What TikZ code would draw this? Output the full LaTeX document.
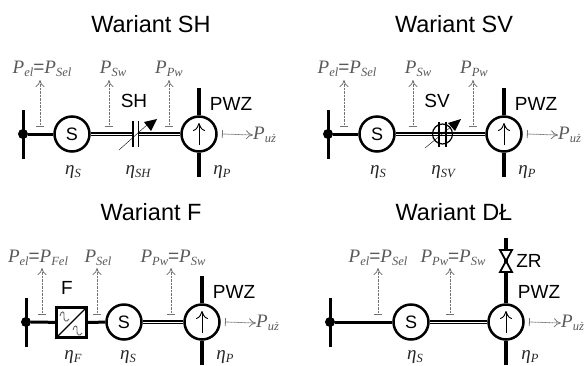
\documentclass[tikz,border=0pt]{standalone}
\usepackage{fontspec}
\setmainfont{Liberation Sans}
\newfontfamily\serifsym{Liberation Serif}
\usetikzlibrary{arrows.meta}
\newcommand{\sym}[2]{{\serifsym\itshape #1\raisebox{-0.35ex}{\fontsize{12.5}{12}\selectfont #2}}}
\tikzset{
 title/.style={font=\fontsize{23.5}{24}\selectfont},
 tag/.style={font=\fontsize{19}{20}\selectfont,inner sep=0pt},
 power/.style={font=\fontsize{19}{20}\selectfont,text=black!65,inner sep=0pt},
 effic/.style={font=\fontsize{19}{20}\selectfont,text=black!85,inner sep=0pt},
 machine/.style={draw,circle,line width=2.5pt,minimum size=35pt,inner sep=0pt,fill=white,font=\fontsize{18}{20}\selectfont},
 filter/.style={draw,rectangle,line width=2.5pt,minimum size=30pt,inner sep=0pt,fill=white},
 dot/.style={circle,fill=black,minimum size=10pt,inner sep=0pt},
 bus/.style={line width=3pt},
 stack/.style={line width=3.8pt},
 shaft/.style={double,line width=1.4pt,double distance=0.9pt},
 flow/.style={black!55,dash pattern=on 0.9pt off 0.5pt,line width=0.8pt,{Bar[width=8pt,sep=0pt]}-{To[length=7pt,width=9pt]}},
 pump/.style={line width=0.9pt,-{To[length=8pt,width=12pt]}},
 plate/.style={line width=1.5pt},
}
\begin{document}
\begin{tikzpicture}[x=1pt,y=-1pt]
 \useasboundingbox (0,0) rectangle (584,365);

 \node[title] (t1) at (151,24) {Wariant SH};
 \node[dot] (d1) at (23,134) {};
 \node[machine] (s1) at (72,134) {S};
 \node[machine] (p1) at (199,134) {};
 \coordinate (c1a) at (133,134);
 \coordinate (c1b) at (138.5,134);
 \draw[bus] (d1) ++(0,-24) -- ++(0,49);
 \draw[bus] (d1) -- (s1);
 \draw[shaft] (s1) -- (c1a);
 \draw[shaft] (c1b) -- (p1);
 \draw[plate] (c1a) ++(0,-13) -- ++(0,26);
 \draw[plate] (c1b) ++(0,-13) -- ++(0,26);
 \draw[thin] (119,150) -- (148,124);
 \fill (144,122)--(157,119)--(151,131)--cycle;
 \draw[stack] (p1.north) -- ++(0,-27);
 \draw[stack] (p1.south) -- ++(0,24);
 \draw[pump] (p1.center) ++(0,11) -- ++(0,-22);
 \node[tag] (n1) at (134,101) {SH};
 \node[tag] (w1) at (231,104) {PWZ};
 \node[power] (a1) at (42,69) {\sym{P}{el}=\sym{P}{Sel}};
 \node[power] (a2) at (113,69) {\sym{P}{Sw}};
 \node[power] (a3) at (169,69) {\sym{P}{Pw}};
 \node[power,anchor=west] (a4) at (253,135) {\sym{P}{uż}};
 \coordinate (b1) at (40,127);
 \coordinate (b2) at (109,127);
 \coordinate (b3) at (169,127);
 \coordinate (b4) at (222,134);
 \draw[flow] (b1) -- ++(0,-47);
 \draw[flow] (b2) -- ++(0,-47);
 \draw[flow] (b3) -- ++(0,-47);
 \draw[flow] (b4) -- (a4.west);
 \node[effic] (e1) at (73,172) {\sym{η}{S}};
 \node[effic] (e2) at (138,172) {\sym{η}{SH}};
 \node[effic] (e3) at (222,172) {\sym{η}{P}};

 \node[title] (t2) at (454,24) {Wariant SV};
 \node[dot] (d2) at (328,134) {};
 \node[machine] (s2) at (377,134) {S};
 \node[machine] (p2) at (504,134) {};
 \coordinate (c2a) at (441,134);
 \coordinate (c2b) at (444,134);
 \draw[bus] (d2) ++(0,-24) -- ++(0,49);
 \draw[bus] (d2) -- (s2);
 \draw[shaft] (s2) -- (p2);
 \draw[line width=1.2pt] (442.5,134) circle (10);
 \draw[plate] (c2a) ++(-2,-12) -- ++(0,25);
 \draw[plate] (c2b) ++(2,-12) -- ++(0,25);
 \draw[thin] (425,148) -- (452,126);
 \fill (448,123)--(461,119)--(455,131)--cycle;
 \draw[stack] (p2.north) -- ++(0,-27);
 \draw[stack] (p2.south) -- ++(0,24);
 \draw[pump] (p2.center) ++(0,11) -- ++(0,-22);
 \node[tag] (n2) at (437,101) {SV};
 \node[tag] (w2) at (536,104) {PWZ};
 \node[power] (a5) at (347,69) {\sym{P}{el}=\sym{P}{Sel}};
 \node[power] (a6) at (418,69) {\sym{P}{Sw}};
 \node[power] (a7) at (474,69) {\sym{P}{Pw}};
 \node[power,anchor=west] (a8) at (558,135) {\sym{P}{uż}};
 \coordinate (b5) at (344,127);
 \coordinate (b6) at (413,127);
 \coordinate (b7) at (473,127);
 \coordinate (b8) at (527,134);
 \draw[flow] (b5) -- ++(0,-47);
 \draw[flow] (b6) -- ++(0,-47);
 \draw[flow] (b7) -- ++(0,-47);
 \draw[flow] (b8) -- (a8.west);
 \node[effic] (e4) at (378,172) {\sym{η}{S}};
 \node[effic] (e5) at (443,172) {\sym{η}{SV}};
 \node[effic] (e6) at (527,172) {\sym{η}{P}};

 \node[title] (t3) at (151,212) {Wariant F};
 \node[dot] (d3) at (26,322) {};
 \node[filter] (f3) at (71.5,322.5) {};
 \node[machine] (s3) at (124,322) {S};
 \node[machine] (p3) at (202,322) {};
 \draw[bus] (d3) ++(0,-24) -- ++(0,49);
 \draw[bus] (d3) -- (f3);
 \draw[bus] (f3) -- (s3);
 \draw[shaft] (s3) -- (p3);
 \draw[line width=1.2pt] (f3.south west) -- (f3.north east);
 \draw[black!60,line width=0.9pt] (60,316) .. controls (61,310) and (65,311) .. (64,316) .. controls (63,321) and (67,323) .. (69,319);
 \draw[black!60,line width=0.9pt] (73,330) .. controls (74,324) and (78,325) .. (77,330) .. controls (76,335) and (80,337) .. (82,333);
 \draw[stack] (p3.north) -- ++(0,-27);
 \draw[stack] (p3.south) -- ++(0,24);
 \draw[pump] (p3.center) ++(0,11) -- ++(0,-22);
 \node[tag] (n3) at (67,288) {F};
 \node[tag] (w3) at (234,292) {PWZ};
 \node[power] (a9) at (38,258) {\sym{P}{el}=\sym{P}{Fel}};
 \node[power] (a10) at (98,258) {\sym{P}{Sel}};
 \node[power] (a11) at (173,258) {\sym{P}{Pw}=\sym{P}{Sw}};
 \node[power,anchor=west] (a12) at (256,323) {\sym{P}{uż}};
 \coordinate (b9) at (42,315);
 \coordinate (b10) at (97,315);
 \coordinate (b11) at (171,315);
 \coordinate (b12) at (225,322);
 \draw[flow] (b9) -- ++(0,-47);
 \draw[flow] (b10) -- ++(0,-47);
 \draw[flow] (b11) -- ++(0,-47);
 \draw[flow] (b12) -- (a12.west);
 \node[effic] (e7) at (73,357) {\sym{η}{F}};
 \node[effic] (e8) at (128,357) {\sym{η}{S}};
 \node[effic] (e9) at (225,357) {\sym{η}{P}};

 \node[title] (t4) at (454,212) {Wariant DŁ};
 \node[dot] (d4) at (330,322) {};
 \node[machine] (s4) at (411,322) {S};
 \node[machine] (p4) at (506,322) {};
 \coordinate (z4) at (506,261);
 \draw[bus] (d4) ++(0,-24) -- ++(0,49);
 \draw[bus] (d4) -- (s4);
 \draw[shaft] (s4) -- (p4);
 \draw[stack] (p4.north) -- (506,238);
 \draw[stack] (p4.south) -- ++(0,24);
 \draw[line width=1.8pt,fill=white] (z4) -- ++(-6,-11) -- ++(12,0) -- cycle;
 \draw[line width=1.8pt,fill=white] (z4) -- ++(-6,11) -- ++(12,0) -- cycle;
 \draw[pump] (p4.center) ++(0,11) -- ++(0,-22);
 \node[tag] (n4) at (529,261) {ZR};
 \node[tag] (w4) at (539,292) {PWZ};
 \node[power] (a13) at (378,258) {\sym{P}{el}=\sym{P}{Sel}};
 \node[power] (a14) at (453,258) {\sym{P}{Pw}=\sym{P}{Sw}};
 \node[power,anchor=west] (a15) at (561,323) {\sym{P}{uż}};
 \coordinate (b13) at (378,315);
 \coordinate (b14) at (450,315);
 \coordinate (b15) at (529,322);
 \draw[flow] (b13) -- ++(0,-47);
 \draw[flow] (b14) -- ++(0,-47);
 \draw[flow] (b15) -- (a15.west);
 \node[effic] (e10) at (415,357) {\sym{η}{S}};
 \node[effic] (e11) at (530,357) {\sym{η}{P}};
\end{tikzpicture}
\end{document}
